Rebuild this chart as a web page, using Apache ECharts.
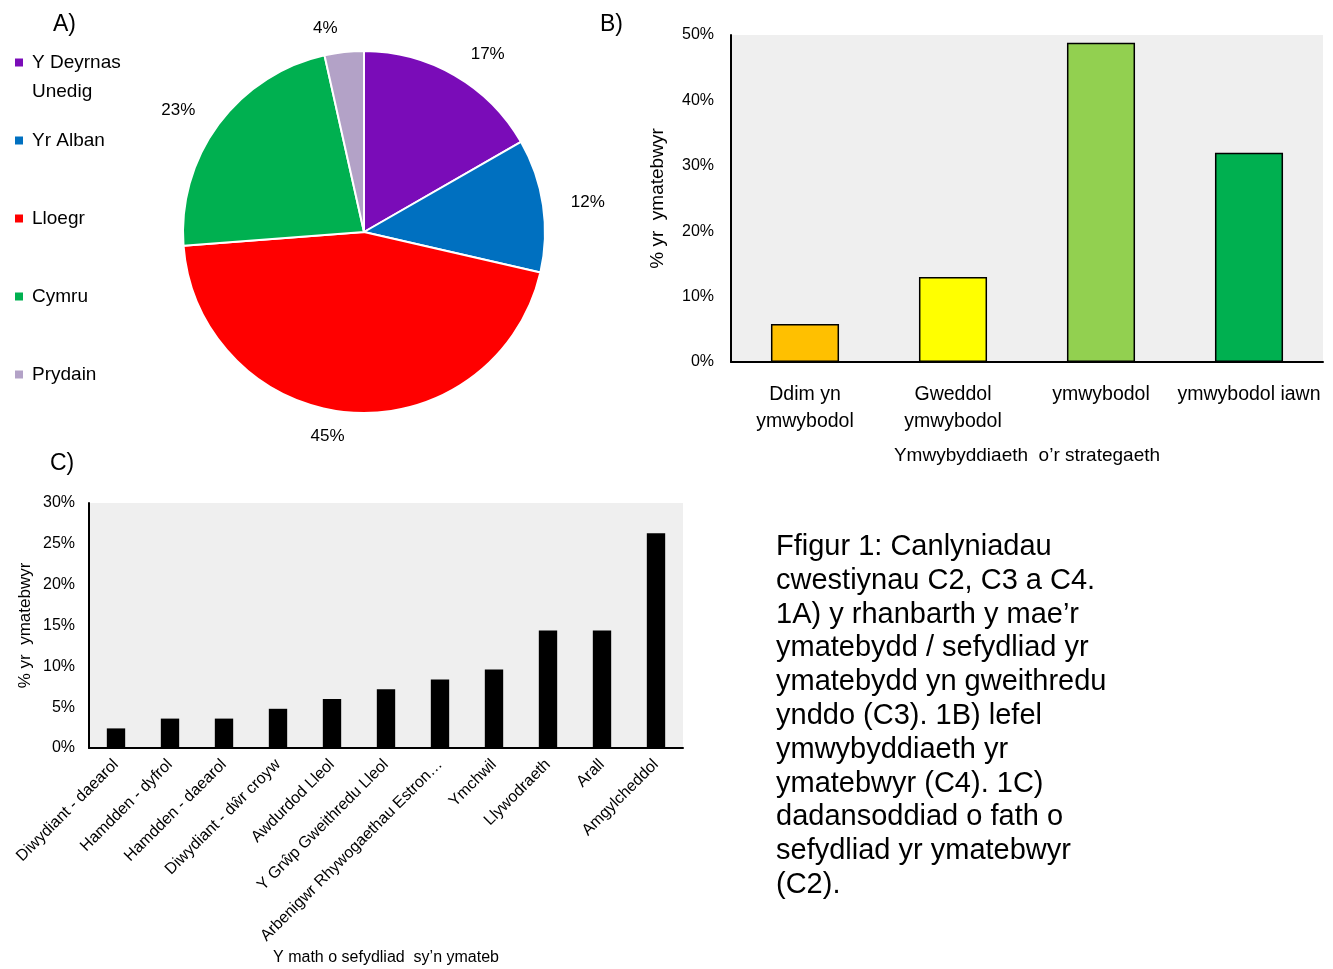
<!DOCTYPE html>
<html>
<head>
<meta charset="utf-8">
<script src="https://cdn.jsdelivr.net/npm/echarts@6/dist/echarts.min.js"></script>
<style>
  html, body { margin: 0; padding: 0; background: #fff; }
  #main { width: 1333px; height: 969px; }
</style>
</head>
<body>
<div id="main"></div>
<script>
// A) rhanbarth (pie)
const regionNames = ['Y Deyrnas Unedig', 'Yr Alban', 'Lloegr', 'Cymru', 'Prydain']
const regionValues = [16.7, 11.9, 45.2, 22.7, 3.5]
const regionColors = ['#7a0cb8', '#0070c0', '#ff0000', '#00b050', '#b3a2c7']

// B) ymwybyddiaeth
const awareCats = ['Ddim yn\nymwybodol', 'Gweddol\nymwybodol', 'ymwybodol', 'ymwybodol iawn']
const awareValues = [5.8, 13.0, 48.8, 32.0]
const awareColors = ['#ffc000', '#ffff00', '#92d050', '#00b050']

// C) math o sefydliad
const orgCats = ['Diwydiant - daearol', 'Hamdden - dyfrol', 'Hamdden - daearol', 'Diwydiant - dŵr croyw',
  'Awdurdod Lleol', 'Y Grŵp Gweithredu Lleol', 'Arbenigwr Rhywogaethau Estron…', 'Ymchwil',
  'Llywodraeth', 'Arall', 'Amgylcheddol']
const orgValues = [2.4, 3.6, 3.6, 4.8, 6.0, 7.2, 8.4, 9.6, 14.4, 14.4, 26.3]

const caption = 'Ffigur 1: Canlyniadau\ncwestiynau C2, C3 a C4.\n1A) y rhanbarth y mae’r\nymatebydd / sefydliad yr\nymatebydd yn gweithredu\nynddo (C3). 1B) lefel\nymwybyddiaeth yr\nymatebwyr (C4). 1C)\ndadansoddiad o fath o\nsefydliad yr ymatebwyr\n(C2).'

const arial = '"Liberation Sans", Arial, sans-serif'

// square icon sitting on the first line of a two-line legend entry
const topSquareIcon = 'path://M0,0L0.05,0L0.05,0.05Z M0,9.5L10,9.5L10,19.5L0,19.5Z M0,58L0.05,58L0.05,57.95Z'

const chart = echarts.init(document.getElementById('main'))

const option = {
  animation: false,
  backgroundColor: '#fff',
  title: [
    { text: 'A)', left: 48, top: 8, textStyle: { fontFamily: arial, fontSize: 23, fontWeight: 'normal', color: '#000' } },
    { text: 'B)', left: 595, top: 8, textStyle: { fontFamily: arial, fontSize: 23, fontWeight: 'normal', color: '#000' } },
    { text: 'C)', left: 45, top: 447, textStyle: { fontFamily: arial, fontSize: 23, fontWeight: 'normal', color: '#000' } },
    {
      text: caption,
      left: 776,
      top: 530,
      padding: 0,
      textStyle: { fontFamily: arial, fontSize: 29, lineHeight: 33.8, fontWeight: 'normal', color: '#000' }
    }
  ],
  legend: [
    {
      data: [{ name: regionNames[0], icon: topSquareIcon }],
      orient: 'vertical',
      left: 8,
      top: 42,
      itemWidth: 10,
      itemHeight: 58,
      formatter: function(name) {
        return 'Y Deyrnas\nUnedig'
      },
      textStyle: { fontFamily: arial, fontSize: 19, lineHeight: 29, color: '#000', padding: [0, 0, 0, 3] }
    },
    {
      data: regionNames.slice(1),
      orient: 'vertical',
      left: 8,
      top: 121,
      icon: 'rect',
      itemWidth: 10,
      itemHeight: 10,
      itemGap: 49,
      textStyle: { fontFamily: arial, fontSize: 19, lineHeight: 29, color: '#000', padding: [0, 0, 0, 3] }
    }
  ],
  grid: [
    { left: 731, top: 35, width: 592, height: 327, show: true, backgroundColor: '#efefef', borderWidth: 0 },
    { left: 89, top: 503, width: 594, height: 245, show: true, backgroundColor: '#efefef', borderWidth: 0 }
  ],
  xAxis: [
    {
      gridIndex: 0,
      type: 'category',
      data: awareCats,
      name: 'Ymwybyddiaeth  o’r strategaeth',
      nameLocation: 'middle',
      nameGap: 84,
      nameTextStyle: { fontFamily: arial, fontSize: 19, color: '#000' },
      axisLine: { show: true, lineStyle: { color: '#000', width: 2 } },
      axisTick: { show: false },
      axisLabel: { fontFamily: arial, fontSize: 19.5, lineHeight: 27, color: '#000', margin: 19, interval: 0 }
    },
    {
      gridIndex: 1,
      type: 'category',
      data: orgCats,
      name: 'Y math o sefydliad  sy’n ymateb',
      nameLocation: 'middle',
      nameGap: 202,
      nameTextStyle: { fontFamily: arial, fontSize: 16, color: '#000' },
      axisLine: { show: true, lineStyle: { color: '#000', width: 2 } },
      axisTick: { show: false },
      axisLabel: { fontFamily: arial, fontSize: 16, color: '#000', rotate: 45, margin: 14, interval: 0 }
    }
  ],
  yAxis: [
    {
      gridIndex: 0,
      type: 'value',
      min: 0,
      max: 50,
      interval: 10,
      name: '% yr  ymatebwyr',
      nameLocation: 'middle',
      nameGap: 64,
      nameTextStyle: { fontFamily: arial, fontSize: 19, color: '#000' },
      axisLine: { show: true, lineStyle: { color: '#000', width: 2 } },
      axisTick: { show: false },
      splitLine: { show: false },
      axisLabel: { fontFamily: arial, fontSize: 16, color: '#000', margin: 17, formatter: '{value}%' }
    },
    {
      gridIndex: 1,
      type: 'value',
      min: 0,
      max: 30,
      interval: 5,
      name: '% yr  ymatebwyr',
      nameLocation: 'middle',
      nameGap: 55,
      nameTextStyle: { fontFamily: arial, fontSize: 17, color: '#000' },
      axisLine: { show: true, lineStyle: { color: '#000', width: 2 } },
      axisTick: { show: false },
      splitLine: { show: false },
      axisLabel: { fontFamily: arial, fontSize: 16, color: '#000', margin: 14, formatter: '{value}%' }
    }
  ],
  series: [
    {
      type: 'pie',
      center: [364, 232],
      radius: 181,
      startAngle: 90,
      clockwise: true,
      avoidLabelOverlap: false,
      data: regionNames.map((n, i) => ({ name: n, value: regionValues[i], itemStyle: { color: regionColors[i] } })),
      itemStyle: { borderColor: '#fff', borderWidth: 2 },
      label: {
        show: true,
        position: 'outside',
        fontFamily: arial,
        fontSize: 17,
        color: '#000',
        distanceToLabelLine: 4,
        formatter: function(p) {
          return Math.round(p.percent) + '%'
        }
      },
      labelLine: { show: false, length: 24, length2: 0 },
      emphasis: { disabled: true }
    },
    {
      type: 'bar',
      xAxisIndex: 0,
      yAxisIndex: 0,
      barWidth: '46%',
      data: awareValues.map((v, i) => ({ value: v, itemStyle: { color: awareColors[i] } })),
      itemStyle: { borderColor: '#000', borderWidth: 1.5 }
    },
    {
      type: 'bar',
      xAxisIndex: 1,
      yAxisIndex: 1,
      barWidth: '34%',
      data: orgValues,
      itemStyle: { color: '#000' }
    }
  ]
}

chart.setOption(option)
</script>
</body>
</html>
